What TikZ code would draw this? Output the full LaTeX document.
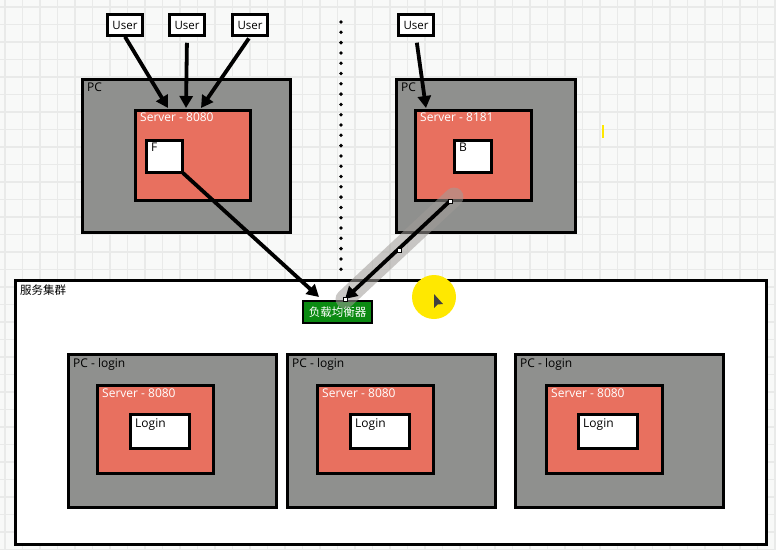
\documentclass[tikz,border=0pt]{standalone}
\usepackage{fontspec}
\setmainfont{Open Sans}
\newfontfamily\cjk{Noto Sans CJK SC}
\usetikzlibrary{arrows.meta}
\definecolor{bgc}{HTML}{F8F9F8}
\definecolor{gridc}{HTML}{E9EAE9}
\definecolor{pcgray}{HTML}{8F908E}
\definecolor{srvred}{HTML}{E8705F}
\definecolor{lbgreen}{HTML}{0B8A12}
\definecolor{cursory}{HTML}{FFE800}
\definecolor{hilite}{HTML}{A09C98}
\tikzset{
  box/.style={draw=black, line width=2.5pt, anchor=north west, inner sep=0pt, rectangle},
  pcbox/.style={box, fill=pcgray},
  srvbox/.style={box, fill=srvred},
  whitebox/.style={box, fill=white},
  userbox/.style={draw=black, line width=2.5pt, fill=white, inner sep=0pt, minimum width=35pt, minimum height=21pt, font=\fontsize{11.5}{13}\selectfont},
  lbl/.style={anchor=north west, inner sep=0pt, font=\fontsize{12}{14}\selectfont},
  wlbl/.style={lbl, text=white},
  arr/.style={line width=3.8pt, -{Triangle[length=12pt,width=13pt]}},
  handle/.style={draw=black, line width=0.5pt, fill=white, minimum size=4.5pt, inner sep=0pt},
}
\begin{document}
\begin{tikzpicture}[x=1pt,y=-1pt]
\useasboundingbox (0,0) rectangle (776,550);
\fill[bgc] (0,0) rectangle (776,550);
\foreach \i in {0,...,44} {\draw[gridc, line width=1.2pt] ({\i*17.5+5},0) -- ({\i*17.5+5},550);}
\foreach \j in {0,...,31} {\draw[gridc, line width=1.2pt] (0,{\j*17.5+7}) -- (776,{\j*17.5+7});}

% dotted divider
\coordinate (dtop) at (341,22);
\coordinate (dbot) at (341,272);
\draw[line width=3.8pt, line cap=round, dash pattern=on 0pt off 10.3pt] (dtop) -- (dbot);

% top left PC
\node[pcbox, minimum width=208pt, minimum height=153pt] (pc1) at (81,78) {};
\node[lbl] (pc1l) at (87,83) {PC};
\node[srvbox, minimum width=115pt, minimum height=90pt] (s1) at (134,109) {};
\node[wlbl] (s1l) at (140,113) {Server - 8080};
\node[whitebox, minimum width=36pt, minimum height=32pt] (f) at (145,139) {};
\node[lbl] (fl) at (151,143) {F};

% top right PC
\node[pcbox, minimum width=179pt, minimum height=153pt] (pc2) at (395,78) {};
\node[lbl] (pc2l) at (401,83) {PC};
\node[srvbox, minimum width=116pt, minimum height=90pt] (s2) at (414,109) {};
\node[wlbl] (s2l) at (420,113) {Server - 8181};
\node[whitebox, minimum width=37pt, minimum height=32pt] (b) at (453,139) {};
\node[lbl] (bl) at (459,143) {B};

% users
\node[userbox] (u1) at (125,25) {User};
\node[userbox] (u2) at (187,25) {User};
\node[userbox] (u3) at (250,25) {User};
\node[userbox] (u4) at (416,25) {User};

% cluster
\node[box, fill=white, minimum width=751pt, minimum height=264pt] (cl) at (14,279) {};
\node[lbl, font=\cjk\fontsize{11.5}{13}\selectfont] (cll) at (20,285) {服务集群};

% load balancer
\node[draw=black, line width=2.5pt, fill=lbgreen, text=white, minimum width=69pt, minimum height=22pt, inner sep=0pt, font=\cjk\fontsize{11.5}{13}\selectfont] (lb) at (337.5,312) {负载均衡器};

% login PCs
\foreach \n/\px/\sx/\lx in {1/67/96/129, 2/286/316/349, 3/514/545/577} {
  \node[pcbox, minimum width=208pt, minimum height=153pt] (lp\n) at (\px,353) {};
  \node[lbl] (lp\n l) at (\px+6,358) {PC - login};
  \node[srvbox, minimum width=116pt, minimum height=88pt] (ls\n) at (\sx,384) {};
  \node[wlbl] (ls\n l) at (\sx+6,389) {Server - 8080};
  \node[whitebox, minimum width=59pt, minimum height=34pt] (lg\n) at (\lx,413) {};
  \node[lbl] (lg\n l) at (\lx+6,418) {Login};
}

% arrow targets
\coordinate (t1) at (168,108);
\coordinate (t2) at (186,108);
\coordinate (t3) at (201,108);
\coordinate (t4) at (426,108);
\coordinate (fs) at (183,173);
\coordinate (ft) at (319,297);
\coordinate (bs) at (450,201);
\coordinate (bm) at (399,250);
\coordinate (bt) at (345,299);

\draw[arr] (u1.south) -- (t1);
\draw[arr, shorten <=6pt] (u2.south) -- (t2);
\draw[arr, shorten <=2pt] (u3.south) -- (t3);
\draw[arr, shorten <=6pt] (u4.south) -- (t4);
\draw[arr] (fs) -- (ft);

% selected connector highlight
\draw[hilite, opacity=0.55, line width=19pt, line cap=round] ([shift={(4,-4)}]bs) -- (bt);
\draw[arr] (bs) -- (bt);
\node[handle] (h1) at (bs) {};
\node[handle] (h2) at (bm) {};
\node[handle] (h3) at (bt) {};

% cursor highlight
\fill[cursory] (434,297) circle (22pt);
\fill[black!75] (434,294) -- (434,308) -- (437.5,304.5) -- (443,304) -- cycle;
\fill[cursory] (602,125) rectangle (604,138);
\end{tikzpicture}
\end{document}
